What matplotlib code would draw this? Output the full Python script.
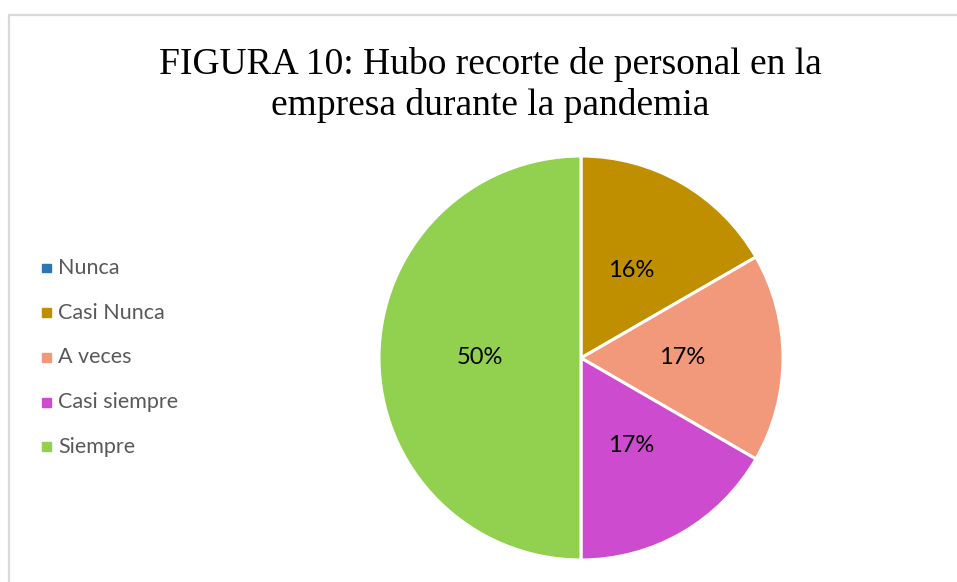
import math
import matplotlib.pyplot as plt
from matplotlib.patches import Rectangle

# Data
categories = ["Nunca", "Casi Nunca", "A veces", "Casi siempre", "Siempre"]
counts = [0, 1, 1, 1, 3]                      # slice sizes (60°, 60°, 60°, 180°)
pct_labels = ["", "16%", "17%", "17%", "50%"]  # data labels as printed
colors = ["#2E75B6", "#BF8F00", "#F1997A", "#CC4BCF", "#92D050"]
title_lines = ["FIGURA 10: Hubo recorte de personal en la",
               "empresa durante la pandemia"]

W, H = 957, 582
fig = plt.figure(figsize=(W / 100, H / 100), dpi=100)

# light grey chart frame (Excel style)
fig.patches.append(Rectangle((8.5 / W, -0.1), 1.2, 1 - 14.5 / H + 0.1,
                             transform=fig.transFigure, fill=False,
                             edgecolor="#d9d9d9", linewidth=1.6))

# pie centred at (581, 358) px with radius 202 px
cx, cy, r = 581, 358, 202
ax = fig.add_axes([(cx - r) / W, (H - cy - r) / H, 2 * r / W, 2 * r / H])

wedges, texts = ax.pie(
    counts, colors=colors, startangle=90, counterclock=False, radius=1,
    wedgeprops=dict(edgecolor="white", linewidth=2.2))
ax.set_xlim(-1, 1)
ax.set_ylim(-1, 1)
ax.set_aspect("equal")

# data labels at half the radius, in the middle of each slice
total = sum(counts)
start = 90.0
for n, lab in zip(counts, pct_labels):
    ang = start - 360.0 * n / total / 2
    start -= 360.0 * n / total
    if not lab:
        continue
    x = 0.5 * math.cos(math.radians(ang))
    y = 0.5 * math.sin(math.radians(ang))
    ax.text(x, y, lab, ha="center", va="center", fontsize=17,
            color="black", family="Lato")

# title, two lines
fig.text(490 / W, 1 - 74 / H, title_lines[0], ha="center", va="baseline",
         fontsize=27, family="Liberation Serif")
fig.text(490 / W, 1 - 115 / H, title_lines[1], ha="center", va="baseline",
         fontsize=27, family="Liberation Serif")

# legend on the left
for i, (lab, col) in enumerate(zip(categories, colors)):
    y = 1 - (268 + i * 44.7) / H
    fig.patches.append(Rectangle((42 / W, y - 4.5 / H), 9 / W, 9 / H,
                                 transform=fig.transFigure, color=col))
    fig.text(58 / W, y, lab, ha="left", va="center", fontsize=15.5,
             color="#595959", family="Lato")

fig.savefig("out.png", dpi=100)
